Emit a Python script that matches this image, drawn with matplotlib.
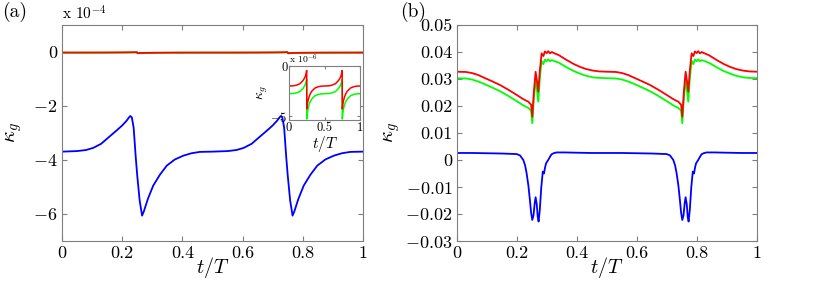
import numpy as np
import matplotlib
matplotlib.use('Agg')
import matplotlib.pyplot as plt

plt.rcParams['font.family'] = 'serif'
plt.rcParams['font.serif'] = ['cmr10', 'DejaVu Serif']
plt.rcParams['mathtext.fontset'] = 'cm'
plt.rcParams['axes.formatter.use_mathtext'] = True
plt.rcParams['axes.unicode_minus'] = True

# panel (a): blue curve, units of 1e-4
t_a = [0.0, 0.05, 0.08, 0.104, 0.13, 0.159, 0.18, 0.20, 0.215, 0.222, 0.227, 0.232,
       0.238, 0.245, 0.250, 0.258, 0.266, 0.272, 0.285, 0.303, 0.325, 0.348,
       0.375, 0.403, 0.43, 0.458, 0.5,
       0.55, 0.58, 0.604, 0.63, 0.659, 0.68, 0.70, 0.715, 0.722, 0.727, 0.732,
       0.738, 0.745, 0.750, 0.758, 0.766, 0.772, 0.785, 0.803, 0.825, 0.848,
       0.875, 0.903, 0.93, 0.958, 1.0]
blue_a = [-3.69, -3.67, -3.63, -3.55, -3.40, -3.12, -2.92, -2.72, -2.54, -2.43, -2.37, -2.42,
          -2.80, -3.90, -4.58, -5.50, -6.06, -5.90, -5.45, -4.95, -4.55, -4.21,
          -3.98, -3.84, -3.75, -3.70, -3.69,
          -3.67, -3.63, -3.55, -3.40, -3.12, -2.92, -2.72, -2.54, -2.43, -2.37, -2.42,
          -2.80, -3.90, -4.58, -5.50, -6.06, -5.90, -5.45, -4.95, -4.55, -4.21,
          -3.98, -3.84, -3.75, -3.70, -3.69]

# panel (a) inset: red / green, units of 1e-6
t_in = [0.0, 0.06, 0.10, 0.155, 0.20, 0.225, 0.238, 0.249, 0.251, 0.258, 0.27,
        0.282, 0.30, 0.319, 0.366, 0.413, 0.46, 0.5,
        0.56, 0.60, 0.655, 0.70, 0.725, 0.738, 0.749, 0.751, 0.758, 0.77,
        0.782, 0.80, 0.819, 0.866, 0.913, 0.96, 1.0]
red_in = [-2.0, -1.98, -1.93, -1.77, -1.43, -1.12, -0.87, -0.45, -4.3, -3.8, -3.4,
          -3.1, -2.78, -2.53, -2.2, -2.07, -2.01, -2.0,
          -1.98, -1.93, -1.77, -1.43, -1.12, -0.87, -0.45, -4.3, -3.8, -3.4,
          -3.1, -2.78, -2.53, -2.2, -2.07, -2.01, -2.0]
green_in = [-2.77, -2.75, -2.70, -2.55, -2.22, -1.92, -1.68, -1.35, -5.3, -4.7, -4.2,
            -3.88, -3.56, -3.31, -2.98, -2.84, -2.78, -2.77,
            -2.75, -2.70, -2.55, -2.22, -1.92, -1.68, -1.35, -5.3, -4.7, -4.2,
            -3.88, -3.56, -3.31, -2.98, -2.84, -2.78, -2.77]

# panel (b)
t_b = [0.0, 0.03, 0.05, 0.07, 0.088, 0.12, 0.143, 0.17, 0.199, 0.22, 0.232, 0.238, 0.243,
       0.247, 0.251, 0.256, 0.262, 0.267, 0.271, 0.276, 0.282, 0.288, 0.293,
       0.299, 0.304, 0.31, 0.316, 0.321, 0.34, 0.366, 0.39, 0.41, 0.43, 0.454,
       0.475, 0.5,
       0.53, 0.55, 0.57, 0.588, 0.62, 0.643, 0.67, 0.699, 0.72, 0.732, 0.738, 0.743,
       0.747, 0.751, 0.756, 0.762, 0.767, 0.771, 0.776, 0.782, 0.788, 0.793,
       0.799, 0.804, 0.81, 0.816, 0.821, 0.84, 0.866, 0.89, 0.91, 0.93, 0.954,
       0.975, 1.0]
red_b = [0.0327, 0.0326, 0.0322, 0.0315, 0.0306, 0.0290, 0.0278, 0.0261, 0.0241, 0.0226, 0.0219, 0.0216, 0.0209,
         0.0205, 0.0160, 0.0250, 0.0327, 0.0290, 0.0253, 0.0330, 0.0395, 0.0385, 0.0402,
         0.0396, 0.0403, 0.0395, 0.0400, 0.0397, 0.0388, 0.0370, 0.0355, 0.0345, 0.0337, 0.0331,
         0.0328, 0.0327,
         0.0326, 0.0322, 0.0315, 0.0306, 0.0290, 0.0278, 0.0261, 0.0241, 0.0226, 0.0219, 0.0216, 0.0209,
         0.0205, 0.0160, 0.0250, 0.0327, 0.0290, 0.0253, 0.0330, 0.0395, 0.0385, 0.0402,
         0.0396, 0.0403, 0.0395, 0.0400, 0.0397, 0.0388, 0.0370, 0.0355, 0.0345, 0.0337, 0.0331,
         0.0328, 0.0327]
green_b = [0.0303, 0.0302, 0.0298, 0.0291, 0.0283, 0.0267, 0.0255, 0.0238, 0.0218, 0.0203, 0.0196, 0.0193, 0.0187,
           0.0183, 0.0136, 0.0225, 0.0296, 0.0255, 0.0216, 0.0300, 0.0367, 0.0355, 0.0372,
           0.0366, 0.0373, 0.0366, 0.0370, 0.0368, 0.0360, 0.0343, 0.0329, 0.0320, 0.0312, 0.0306,
           0.0304, 0.0303,
           0.0302, 0.0298, 0.0291, 0.0283, 0.0267, 0.0255, 0.0238, 0.0218, 0.0203, 0.0196, 0.0193, 0.0187,
           0.0183, 0.0136, 0.0225, 0.0296, 0.0255, 0.0216, 0.0300, 0.0367, 0.0355, 0.0372,
           0.0366, 0.0373, 0.0366, 0.0370, 0.0368, 0.0360, 0.0343, 0.0329, 0.0320, 0.0312, 0.0306,
           0.0304, 0.0303]
t_bb = [0.0, 0.05, 0.1, 0.15, 0.199, 0.21, 0.221, 0.227, 0.232, 0.238, 0.243,
        0.247, 0.251, 0.255, 0.259, 0.262, 0.266, 0.269, 0.272, 0.276, 0.281,
        0.286, 0.29, 0.294, 0.297, 0.304, 0.31, 0.315, 0.322, 0.332, 0.36, 0.4,
        0.45, 0.5,
        0.55, 0.6, 0.65, 0.699, 0.71, 0.721, 0.727, 0.732, 0.738, 0.743,
        0.747, 0.751, 0.755, 0.759, 0.762, 0.766, 0.769, 0.772, 0.776, 0.781,
        0.786, 0.79, 0.794, 0.797, 0.804, 0.81, 0.815, 0.822, 0.832, 0.86, 0.9,
        0.95, 1.0]
blue_b = [0.0026, 0.0026, 0.0025, 0.0024, 0.0022, 0.0017, 0.0, -0.002, -0.0049, -0.0095, -0.0148,
          -0.0195, -0.0222, -0.0205, -0.0160, -0.0138, -0.0165, -0.0210, -0.0228, -0.0185, -0.0100,
          -0.0043, -0.0050, -0.0025, -0.0012, 0.0, 0.0012, 0.0021, 0.0025, 0.0028, 0.0028, 0.0027,
          0.0026, 0.0026,
          0.0026, 0.0025, 0.0024, 0.0022, 0.0017, 0.0, -0.002, -0.0049, -0.0095, -0.0148,
          -0.0195, -0.0222, -0.0205, -0.0160, -0.0138, -0.0165, -0.0210, -0.0228, -0.0185, -0.0100,
          -0.0043, -0.0050, -0.0025, -0.0012, 0.0, 0.0012, 0.0021, 0.0025, 0.0028, 0.0028, 0.0027,
          0.0026, 0.0026]

W, H = 817.0, 281.0
fig = plt.figure(figsize=(W / 100, H / 100), dpi=100)
gray = '#7f7f7f'


def style(ax, fs=13):
    for s in ax.spines.values():
        s.set_color(gray)
    ax.tick_params(direction='in', top=True, right=True, color=gray,
                   labelsize=fs, length=3.5, width=0.8)


# panel (a)
ax = fig.add_axes([62 / W, 40 / H, 301 / W, 216 / H])
ax.plot(t_in, np.array(green_in) * 1e-2, color='#00ff00', lw=1.3)
ax.plot(t_in, np.array(red_in) * 1e-2, color='#ff0000', lw=1.3)
ax.plot(t_a, blue_a, color='#0000ff', lw=1.3)
ax.set_xlim(0, 1)
ax.set_ylim(-7, 1)
ax.set_yticks([-6, -4, -2, 0])
ax.set_xticks([0, 0.2, 0.4, 0.6, 0.8, 1])
ax.set_xticklabels(['0', '0.2', '0.4', '0.6', '0.8', '1'])
ax.set_yticklabels(['$-6$', '$-4$', '$-2$', '0'])
style(ax)
ax.set_xlabel('$t/T$', fontsize=14.5, va='center')
ax.xaxis.set_label_coords(0.5, -0.125)
ax.set_ylabel(r'$\kappa_g$', fontsize=15, labelpad=6)
ax.text(0, 1.01, r'x 10$^{-4}$', transform=ax.transAxes, fontsize=11, va='bottom')
fig.text(2 / W, 1 - 12 / H, '(a)', fontsize=14, va='center')

# inset
ins = fig.add_axes([289 / W, 161 / H, 71 / W, 54 / H])
ins.plot(t_in, green_in, color='#00ff00', lw=1.1)
ins.plot(t_in, red_in, color='#ff0000', lw=1.1)
ins.set_xlim(0, 1)
ins.set_ylim(-5.4, 0)
ins.set_xticks([0, 0.5, 1])
ins.set_xticklabels(['0', '0.5', '1'])
ins.set_yticks([-5, 0])
ins.set_yticklabels(['$-5$', '0'])
style(ins, fs=9)
ins.tick_params(length=2, pad=1)
ins.set_xlabel('$t/T$', fontsize=11, labelpad=0)
ins.set_ylabel(r'$\kappa_g$', fontsize=10, labelpad=0)
ins.text(0, 1.0, r'x 10$^{-6}$', transform=ins.transAxes, fontsize=7, va='bottom')

# panel (b)
bx = fig.add_axes([457 / W, 40 / H, 300 / W, 216 / H])
bx.plot(t_b, green_b, color='#00ff00', lw=1.3)
bx.plot(t_b, red_b, color='#ff0000', lw=1.3)
bx.plot(t_bb, blue_b, color='#0000ff', lw=1.3)
bx.set_xlim(0, 1)
bx.set_ylim(-0.03, 0.05)
bx.set_xticks([0, 0.2, 0.4, 0.6, 0.8, 1])
bx.set_xticklabels(['0', '0.2', '0.4', '0.6', '0.8', '1'])
yt = [-0.03, -0.02, -0.01, 0, 0.01, 0.02, 0.03, 0.04, 0.05]
bx.set_yticks(yt)
bx.set_yticklabels(['$-0.03$', '$-0.02$', '$-0.01$', '0', '0.01', '0.02', '0.03', '0.04', '0.05'])
style(bx)
bx.set_xlabel('$t/T$', fontsize=14.5, va='center')
bx.xaxis.set_label_coords(0.5, -0.125)
bx.set_ylabel(r'$\kappa_g$', fontsize=15, labelpad=2)
fig.text(400 / W, 1 - 12 / H, '(b)', fontsize=14, va='center')

fig.savefig('out.png', dpi=100)
